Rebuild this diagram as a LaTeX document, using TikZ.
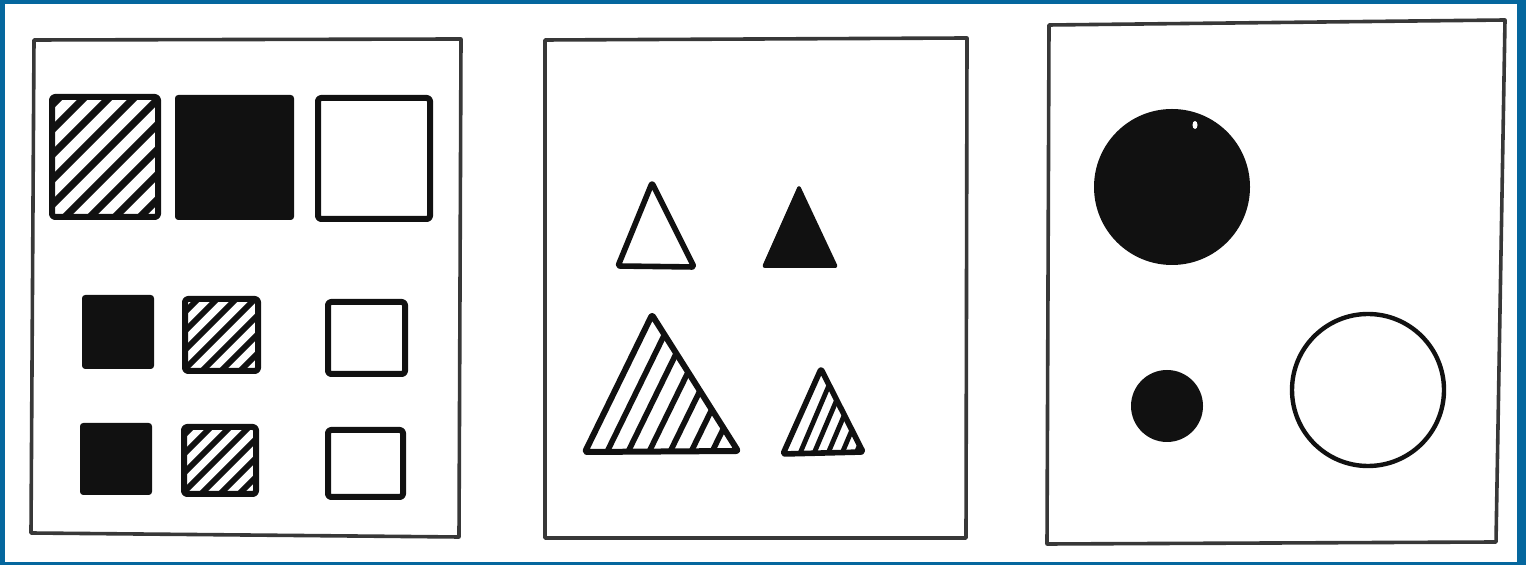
\documentclass[tikz,border=0pt]{standalone}
\definecolor{frameblue}{HTML}{05679E}
\definecolor{panelgray}{HTML}{383838}
\definecolor{ink}{HTML}{111111}
\tikzset{
  panel/.style={draw=panelgray,line width=1.8pt,line join=round},
  shapeline/.style={draw=ink,line width=3pt,line join=round,rounded corners=1.5pt},
  solidshape/.style={fill=ink,draw=ink,line width=1pt,line join=round,rounded corners=1.2pt},
  hatch/.style={draw=ink,line width=3.6pt},
  hatchsmall/.style={draw=ink,line width=3pt},
}
\begin{document}
\begin{tikzpicture}[x=0.5pt,y=-0.5pt]
\useasboundingbox (0,0) rectangle (1526,565);
\fill[frameblue] (0,0) rectangle (1526,565);
\fill[white] (5,4) rectangle (1517,562);

% panels
\draw[panel] (34,40) -- (461,39) -- (459,537) -- (31,533) -- cycle;
\draw[panel] (545,40) -- (967,38) -- (966,538) -- (545,538) -- cycle;
\draw[panel] (1049,25) -- (1505,20) -- (1496,542) -- (1047,544) -- cycle;

% ---- panel 1: squares
% big hatched
\begin{scope}
  \clip (52,97) rectangle (158,217);
  \foreach \d in {-112,-87,...,110} \draw[hatch] (52+\d,217) -- ++(130,-130);
\end{scope}
\draw[shapeline] (52,97) rectangle (158,217);
% big black
\draw[solidshape] (176,96) rectangle (293,219);
% big white
\draw[shapeline] (318,98) rectangle (430,219);

% row 2
\draw[solidshape] (83,296) rectangle (153,368);
\begin{scope}
  \clip (185,299) rectangle (258,371);
  \foreach \d in {-78,-59,...,80} \draw[hatchsmall] (185+\d,371) -- ++(90,-90);
\end{scope}
\draw[shapeline] (185,299) rectangle (258,371);
\draw[shapeline] (328,302) rectangle (405,374);

% row 3
\draw[solidshape] (81,424) rectangle (151,494);
\begin{scope}
  \clip (184,427) rectangle (256,494);
  \foreach \d in {-78,-59,...,80} \draw[hatchsmall] (184+\d,494) -- ++(90,-90);
\end{scope}
\draw[shapeline] (184,427) rectangle (256,494);
\draw[shapeline] (328,430) rectangle (403,497);

% ---- panel 2: triangles
\draw[shapeline,line width=2.8pt,rounded corners=1pt] (652,183) -- (694,267) -- (618,266) -- cycle;
\draw[solidshape,rounded corners=1pt] (799,186) -- (837,267) -- (763,267) -- cycle;

\begin{scope}
  \clip (652,315) -- (738,451) -- (585,452) -- cycle;
  \foreach \b in {605,626,...,740} \draw[hatchsmall,line width=2.8pt] (\b,456) -- ++(72,-147);
\end{scope}
\draw[shapeline,rounded corners=1pt] (652,315) -- (738,451) -- (585,452) -- cycle;

\begin{scope}
  \clip (821,369) -- (863,452) -- (783,454) -- cycle;
  \foreach \b in {798,812,...,866} \draw[hatchsmall,line width=2.4pt] (\b,458) -- ++(40,-94);
\end{scope}
\draw[shapeline,line width=2.8pt,rounded corners=1pt] (821,369) -- (863,452) -- (783,454) -- cycle;

% ---- panel 3: circles
\fill[ink] (1172,187) circle (78);
\fill[white] (1195,125) ellipse (2.5 and 4);
\fill[ink] (1167,406) circle (36);
\draw[ink,line width=2.2pt] (1368,390) circle (76);
\end{tikzpicture}
\end{document}
